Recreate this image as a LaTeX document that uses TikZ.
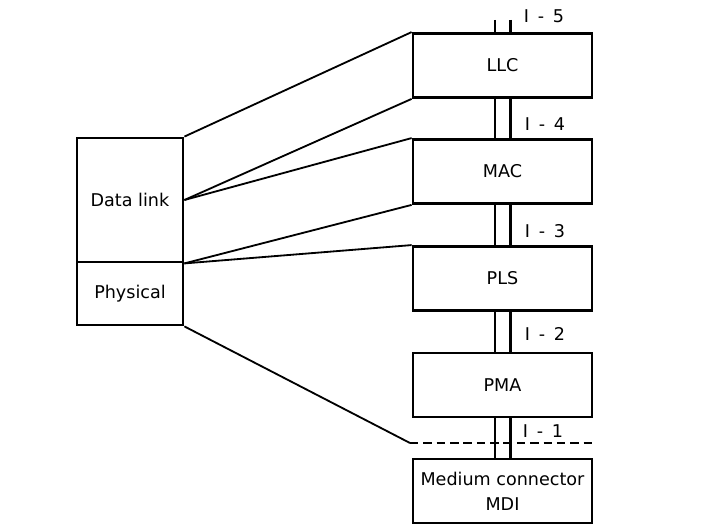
\documentclass[tikz,border=0pt]{standalone}
\usepackage{fontspec}
\setmainfont{DejaVu Sans}
\usetikzlibrary{calc}
\tikzset{
  layerbox/.style={draw,line width=2pt,minimum width=4.475cm,minimum height=1.6cm,inner sep=0pt,align=center},
  osibox/.style={draw,line width=2pt,minimum width=2.65cm,inner sep=0pt},
  link/.style={line width=1.3pt},
  iflabel/.style={inner sep=0pt}
}
\begin{document}
\begin{tikzpicture}[x=0.25cm,y=0.25cm,font=\fontsize{12.5}{14}\selectfont]
                        \useasboundingbox (0,0) rectangle (71.6,52.5);
                        \node[layerbox] (llc) at (50.25,45.95) {LLC};
                        \node[layerbox] (mac) at (50.25,35.35) {MAC};
                        \node[layerbox] (pls) at (50.25,24.65) {PLS};
                        \node[layerbox] (pma) at (50.25,14.0) {PMA};
                        \node[layerbox] (mdi) at (50.25,3.4) {Medium connector\\[4pt]MDI};
                        \node[osibox,minimum height=3.1cm] (datalink) at (13.0,32.5) {Data link};
                        \node[osibox,minimum height=1.575cm] (physical) at (13.0,23.15) {Physical};
                        \coordinate (bend) at (41.0,8.2);
                        \coordinate (dashend) at (59.2,8.2);
                        \coordinate (top) at (50.25,50.5);
                        \draw[link] (datalink.north east) -- (llc.north west);
                        \draw[link] (datalink.east) -- (llc.south west);
                        \draw[link] (datalink.east) -- (mac.north west);
                        \draw[link] (datalink.south east) -- (mac.south west);
                        \draw[link] (datalink.south east) -- (pls.north west);
                        \draw[link] (physical.south east) -- (bend);
                        \draw[link,dash pattern=on 6pt off 3.5pt] (bend) -- (dashend);
                        \foreach \a/\b in {top/llc.north,llc.south/mac.north,mac.south/pls.north,pls.south/pma.north,pma.south/mdi.north}
                            \draw[line width=2pt] ([xshift=-0.19cm]\a) -- ([xshift=-0.19cm]\b)
                                ([xshift=0.19cm]\a) -- ([xshift=0.19cm]\b);
                        \node[iflabel] (i5) at (54.4,50.9) {I\enspace-\enspace5};
                        \node[iflabel] (i4) at (54.5,40.1) {I\enspace-\enspace4};
                        \node[iflabel] (i3) at (54.5,29.4) {I\enspace-\enspace3};
                        \node[iflabel] (i2) at (54.5,19.1) {I\enspace-\enspace2};
                        \node[iflabel] (i1) at (54.3,9.4) {I\enspace-\enspace1};
                    \end{tikzpicture}
\end{document}
